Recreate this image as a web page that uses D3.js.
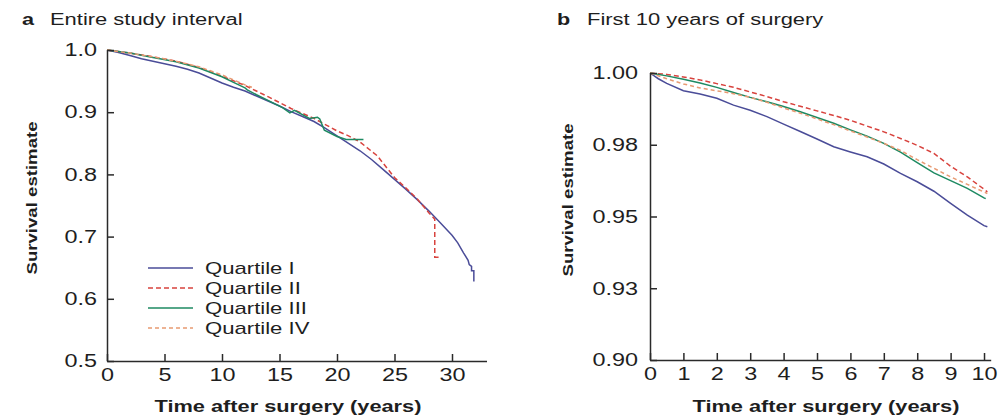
<!DOCTYPE html>
<html>
<head>
<meta charset="utf-8">
<script src="https://cdn.jsdelivr.net/npm/d3@7"></script>
<style>
  html, body { margin: 0; padding: 0; background: #fff; }
  svg { display: block; font-family: "Liberation Sans", Arial, sans-serif; }
</style>
</head>
<body>
<svg id="chart" width="998" height="416"></svg>
<script>
// ---- Panel a: entire study interval (years, survival) ----
const tA_q1 = [0,1,2,3,4,5,6,7,8,9,10,11,12,13,14,15,16,17,18,19,20,21,22,23,24,25,26,27,28,29,30,30.5,31,31.4,31.5,31.7,31.7,31.9,31.9];
const sA_q1 = [1,0.996,0.991,0.986,0.982,0.978,0.974,0.969,0.963,0.955,0.947,0.94,0.934,0.926,0.918,0.91,0.901,0.893,0.885,0.874,0.862,0.85,0.838,0.824,0.808,0.792,0.776,0.759,0.741,0.722,0.702,0.69,0.674,0.662,0.655,0.652,0.645,0.645,0.628];

const tA_q2 = [0,2,4,6,8,10,12,14,16,18,20,21,22,23.5,25,26,27,28,28.5,28.5,28.9];
const sA_q2 = [1,0.995,0.989,0.982,0.972,0.958,0.943,0.925,0.906,0.89,0.87,0.862,0.852,0.83,0.795,0.778,0.76,0.738,0.728,0.667,0.667];

const tA_q3 = [0,2,4,6,8,10,11,12,12.2,13,14,15.3,15.9,16.3,17.6,18.3,18.5,18.9,20,20.8,22.3];
const sA_q3 = [1,0.995,0.988,0.981,0.971,0.957,0.948,0.939,0.936,0.928,0.919,0.907,0.899,0.903,0.89,0.892,0.889,0.871,0.861,0.856,0.856];

const tA_q4 = [0,2,4,6,8,10,11,12,12.6];
const sA_q4 = [1,0.995,0.989,0.982,0.973,0.96,0.952,0.944,0.94];

// ---- Panel b: first 10 years ----
const tB_q1 = [0,0.25,0.5,1,1.5,2,2.5,3,3.5,4,4.5,5,5.5,6,6.5,7,7.5,8,8.5,9,9.5,10,10.1];
const sB_q1 = [1,0.998,0.9964,0.9938,0.9927,0.9912,0.9888,0.987,0.9848,0.9822,0.9796,0.977,0.9743,0.9725,0.9708,0.9683,0.965,0.9621,0.9588,0.9546,0.9505,0.9468,0.9464];

const tB_q2 = [0,0.5,1,1.5,2,2.5,3,3.5,4,4.5,5,5.5,6,6.5,7,7.5,8,8.5,9,9.5,10,10.1];
const sB_q2 = [1,0.9995,0.9986,0.9976,0.9963,0.995,0.9934,0.9918,0.99,0.9884,0.9868,0.9852,0.9835,0.9815,0.9795,0.9772,0.9748,0.972,0.9675,0.9638,0.9595,0.9586];

const tB_q3 = [0,0.5,1,1.5,2,2.5,3,3.5,4,4.5,5,5.5,6,6.5,7,7.5,8,8.5,9,9.5,10,10.05];
const sB_q3 = [1,0.999,0.9978,0.9965,0.995,0.9932,0.9915,0.99,0.9883,0.9865,0.9845,0.9825,0.9802,0.978,0.9755,0.9724,0.9688,0.9652,0.9625,0.9598,0.9565,0.9562];

const tB_q4 = [0,0.5,1,1.5,2,2.5,3,3.5,4,4.5,5,5.5,6,6.5,7,7.5,8,8.5,9,9.5,10,10.1];
const sB_q4 = [1,0.998,0.9962,0.9948,0.9938,0.9928,0.9915,0.9898,0.9878,0.986,0.984,0.982,0.9798,0.9777,0.9755,0.973,0.9698,0.9668,0.9638,0.9612,0.9585,0.958];

// ---- Labels ----
const legendLabels = ["Quartile I", "Quartile II", "Quartile III", "Quartile IV"];
const ticksA_x = [0, 5, 10, 15, 20, 25, 30];
const ticksA_y = [0.5, 0.6, 0.7, 0.8, 0.9, 1.0];
const tickLabelsA_y = ["0.5", "0.6", "0.7", "0.8", "0.9", "1.0"];
const ticksB_x = [0, 1, 2, 3, 4, 5, 6, 7, 8, 9, 10];
const ticksB_y = [0.9, 0.925, 0.95, 0.975, 1.0];
const tickLabelsB_y = ["0.90", "0.93", "0.95", "0.98", "1.00"];

// line styles per quartile
const styles = [
  { color: "#4a4c98", dash: null },
  { color: "#d8433e", dash: "5,3" },
  { color: "#1e8a62", dash: null },
  { color: "#e89a72", dash: "4,3" }
];

const svg = d3.select("#chart");
const ink = "#1e1e1e";

// widen glyphs horizontally along the reading direction
function stretch(sel, k) {
  sel.each(function () {
    const n = this.getComputedTextLength();
    this.setAttribute("textLength", n * k);
    this.setAttribute("lengthAdjust", "spacingAndGlyphs");
  });
}

function zip(ts, vs) { return ts.map((t, i) => [t, vs[i]]); }

function drawPanel(cfg) {
  const g = svg.append("g");
  const x = d3.scaleLinear().domain(cfg.xDomain).range(cfg.xRange);
  const y = d3.scaleLinear().domain(cfg.yDomain).range(cfg.yRange);

  const line = d3.line().x(d => x(d[0])).y(d => y(d[1]));
  cfg.series.forEach((s, i) => {
    g.append("path")
      .datum(s)
      .attr("fill", "none")
      .attr("stroke", styles[i].color)
      .attr("stroke-width", 1.5)
      .attr("stroke-dasharray", styles[i].dash)
      .attr("d", line);
  });

  const xAxis = d3.axisBottom(x).tickValues(cfg.xTicks).tickSizeInner(-7).tickSizeOuter(0).tickPadding(7);
  const yAxis = d3.axisLeft(y).tickValues(cfg.yTicks).tickFormat((d, i) => cfg.yLabels[i])
    .tickSizeInner(-7).tickSizeOuter(0).tickPadding(cfg.yPad);

  const gx = g.append("g").attr("transform", `translate(0,${cfg.yRange[0]})`).call(xAxis);
  const gy = g.append("g").attr("transform", `translate(${cfg.xRange[0]},0)`).call(yAxis);
  [gx, gy].forEach(a => {
    a.selectAll("path, line").attr("stroke", "#2a2a2a").attr("stroke-width", 1.5);
    a.selectAll("text").attr("fill", ink).style("font-size", "18px").style("font-family", "Liberation Sans, Arial, sans-serif");
  });
  stretch(gx.selectAll("text"), 1.3);
  stretch(gy.selectAll("text"), 1.3);

  // panel heading
  g.append("text").attr("x", cfg.tag[0]).attr("y", 25).attr("fill", ink)
    .style("font-size", "16px").style("font-weight", "bold").text(cfg.tag[1])
    .call(stretch, 1.35);
  g.append("text").attr("x", cfg.tag[2]).attr("y", 25).attr("fill", ink)
    .style("font-size", "16px").text(cfg.title)
    .call(stretch, 1.37);

  // axis titles
  g.append("text").attr("x", cfg.xTitleX).attr("y", 412).attr("text-anchor", "middle").attr("fill", ink)
    .style("font-size", "16px").style("font-weight", "bold").text("Time after surgery (years)")
    .call(stretch, 1.36);
  g.append("text").attr("transform", `translate(${cfg.yTitle[0]},${cfg.yTitle[1]}) rotate(-90)`)
    .attr("text-anchor", "middle").attr("dy", "0.35em").attr("fill", ink)
    .style("font-size", "15px").style("font-weight", "bold").text("Survival estimate")
    .call(stretch, 1.24);
  return g;
}

const gA = drawPanel({
  xDomain: [0, 33], xRange: [107, 486.5],
  yDomain: [0.5, 1], yRange: [361, 50],
  xTicks: ticksA_x, yTicks: ticksA_y, yLabels: tickLabelsA_y, yPad: 10,
  series: [zip(tA_q1, sA_q1), zip(tA_q2, sA_q2), zip(tA_q3, sA_q3), zip(tA_q4, sA_q4)],
  tag: [22, "a", 50], title: "Entire study interval",
  xTitleX: 288, yTitle: [32, 198]
});

drawPanel({
  xDomain: [0, 10.2], xRange: [650, 990.7],
  yDomain: [0.9, 1], yRange: [360, 73],
  xTicks: ticksB_x, yTicks: ticksB_y, yLabels: tickLabelsB_y, yPad: 12,
  series: [zip(tB_q1, sB_q1), zip(tB_q2, sB_q2), zip(tB_q3, sB_q3), zip(tB_q4, sB_q4)],
  tag: [557, "b", 587], title: "First 10 years of surgery",
  xTitleX: 826, yTitle: [568, 200]
});

// legend in panel a
const legend = gA.append("g");
legendLabels.forEach((lab, i) => {
  const yy = 268 + i * 20;
  legend.append("line").attr("x1", 148).attr("x2", 193).attr("y1", yy).attr("y2", yy)
    .attr("stroke", styles[i].color).attr("stroke-width", 1.3)
    .attr("stroke-dasharray", styles[i].dash);
  legend.append("text").attr("x", 205).attr("y", yy).attr("dy", "0.36em").attr("fill", ink)
    .style("font-size", "17px").text(lab).call(stretch, 1.3);
});
</script>
</body>
</html>
